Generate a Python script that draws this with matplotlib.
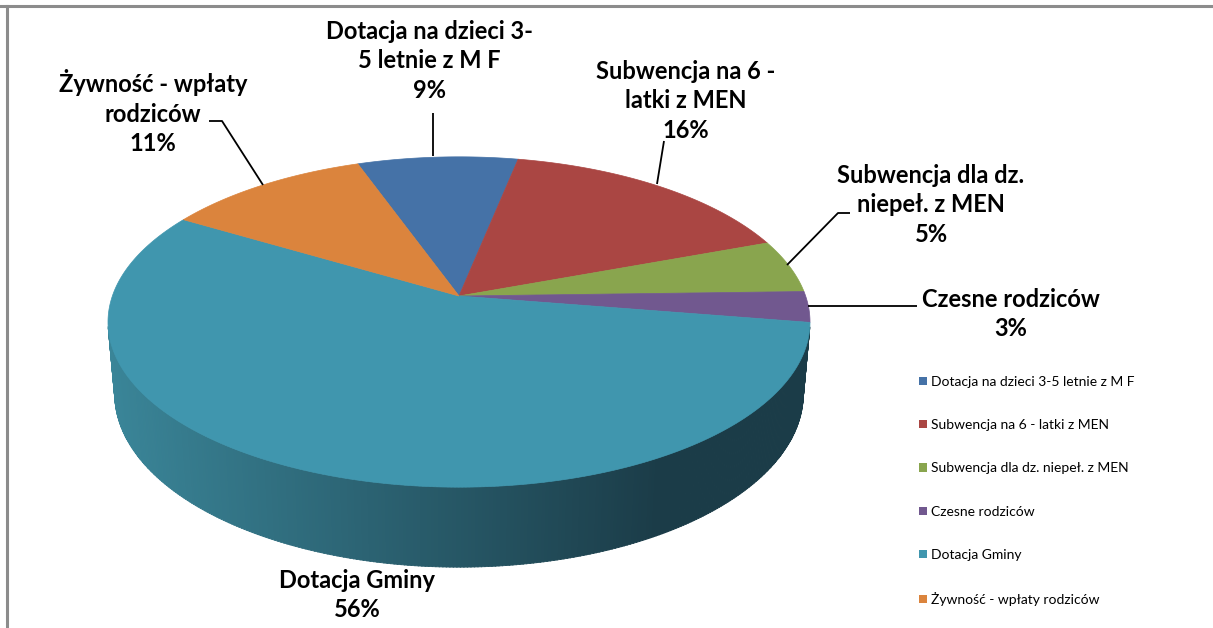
import numpy as np
import matplotlib
matplotlib.use("Agg")
import matplotlib.pyplot as plt
from matplotlib.patches import Polygon, Patch
import matplotlib.colors as mcolors

# ---------------- data ----------------
categories = ["Dotacja na dzieci 3-5 letnie z M F",
              "Subwencja na 6 - latki z MEN",
              "Subwencja dla dz. niepeł. z MEN",
              "Czesne rodziców",
              "Dotacja Gminy",
              "Żywność - wpłaty rodziców"]
values = [8.6, 16.2, 5.2, 3.0, 56.0, 11.0]
# wrapped data-label names, as shown on the chart
label_names = ["Dotacja na dzieci 3-\n5 letnie z M F",
               "Subwencja na 6 -\nlatki z MEN",
               "Subwencja dla dz.\nniepeł. z MEN",
               "Czesne rodziców",
               "Dotacja Gminy",
               "Żywność - wpłaty\nrodziców"]
colors = ["#4572A7", "#AA4643", "#89A54E", "#71588F", "#4096AE", "#DB843D"]

# ---------------- layout / style ----------------
W, H = 1213, 628
fig = plt.figure(figsize=(W / 100, H / 100), dpi=100)
ax = fig.add_axes([0, 0, 1, 1])
ax.set_xlim(0, W)
ax.set_ylim(H, 0)
ax.axis("off")

FONT = "Lato"
start_deg = -19.6          # first slice starts left of the back point
cx, cy = 459.0, 296.0      # projected pie centre
Dd, el = 5.64, np.radians(27.4)
s_e, c_e = np.sin(el), np.cos(el)
fx, fy = 1955.0, 1974.0
thick = 0.2335


def proj(phi, r=1.0, h=0.0):
    x = r * np.sin(phi)
    z = -r * np.cos(phi)
    depth = Dd - h * s_e - z * c_e
    u = fx * x / depth
    v = fy * (h * c_e - z * s_e) / depth
    return cx + u, cy - v


total = float(sum(values))
fracs = [v / total for v in values]
bounds = np.radians(start_deg + 360.0 * np.concatenate([[0], np.cumsum(fracs)]))

# ---------------- side wall ----------------
wall_light = np.array([58, 133, 152]) / 255.0
wall_dark = np.array([27, 60, 72]) / 255.0
teal_rgb = np.array(mcolors.to_rgb(colors[4]))

segs = []
N = 720
for i in range(len(values)):
    a0, a1 = bounds[i], bounds[i + 1]
    n = max(2, int(N * (a1 - a0) / (2 * np.pi)))
    ang = np.linspace(a0, a1, n + 1)
    for k in range(n):
        p0, p1 = ang[k], ang[k + 1]
        zm = -np.cos(0.5 * (p0 + p1))
        if Dd * c_e * zm - 1.0 <= -0.05:
            continue
        segs.append((zm, i, p0, p1))
segs.sort(key=lambda s: s[0])
for zm, i, p0, p1 in segs:
    pa = np.linspace(p0, p1 + 0.002, 3)
    top = [proj(p) for p in pa]
    bot = [proj(p, h=-thick) for p in pa[::-1]]
    xm = 0.5 * (top[0][0] + top[-1][0])
    t = np.clip((xm - 110.0) / (660.0 - 110.0), 0, 1)
    g = wall_light * (1 - t) + wall_dark * t
    col = np.clip(np.array(mcolors.to_rgb(colors[i])) * (g / teal_rgb), 0, 1)
    ax.add_patch(Polygon(top + bot, closed=True, facecolor=col,
                         edgecolor=col, linewidth=0.6, zorder=2))

# ---------------- top faces ----------------
for i in range(len(values)):
    ang = np.linspace(bounds[i], bounds[i + 1], 200)
    pts = [(cx, cy)] + [proj(p) for p in ang]
    ax.add_patch(Polygon(pts, closed=True, facecolor=colors[i],
                         edgecolor=colors[i], linewidth=0.5, zorder=3))

# ---------------- data labels ----------------
label_pos = [(429, 61), (686, 101), (931, 205), (1011, 314), (357, 595), (153, 112)]
for i in range(len(values)):
    pct = int(round(100 * fracs[i]))
    ax.text(label_pos[i][0], label_pos[i][1], f"{label_names[i]}\n{pct}%",
            ha="center", va="center", fontsize=17, fontweight="bold",
            family=FONT, linespacing=1.36, color="black", zorder=5)

# leader lines
leaders = [
    [(433, 156), (433, 113)],
    [(657, 184), (664, 141)],
    [(787, 265), (838, 213), (850, 213)],
    [(808, 306), (917, 306)],
    [(263, 185), (222, 121), (209, 121)],
]
for ln in leaders:
    xs, ys = zip(*ln)
    ax.plot(xs, ys, color="black", lw=1.3, zorder=4, solid_capstyle="butt")

# ---------------- legend ----------------
handles = [Patch(facecolor=c, edgecolor="none") for c in colors]
leg = fig.legend(handles, categories, loc="upper left",
                 bbox_to_anchor=(912 / W, 1 - 369 / H), frameon=False,
                 prop={"family": FONT, "size": 10},
                 labelspacing=2.25, handlelength=0.55, handleheight=0.55,
                 handletextpad=0.35, borderpad=0.0)

# ---------------- frame remnants ----------------
ax.plot([0, W], [5.5, 5.5], color="#8c8c8c", lw=2.2, zorder=6)
ax.plot([6.5, 6.5], [5.5, H], color="#8c8c8c", lw=2.2, zorder=6)

fig.savefig("out.png", dpi=100)
